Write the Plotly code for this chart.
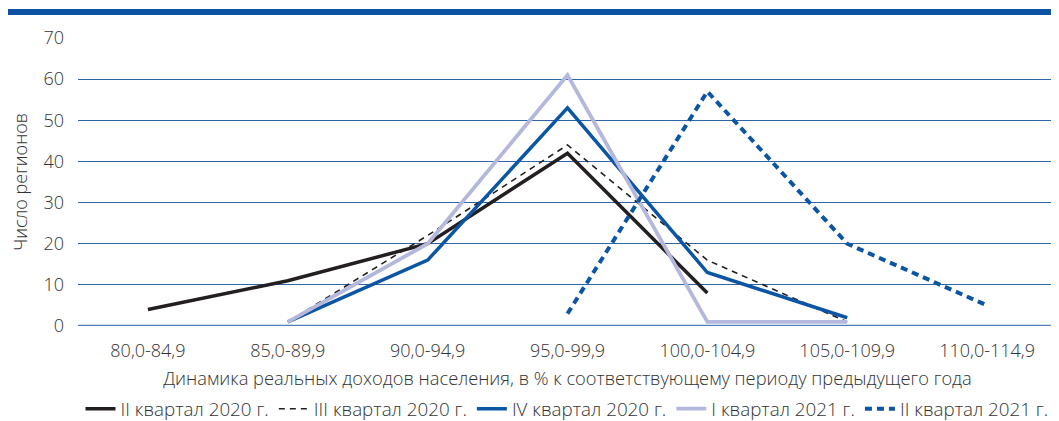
import plotly.graph_objects as go

categories = ["80,0-84,9", "85,0-89,9", "90,0-94,9", "95,0-99,9", "100,0-104,9", "105,0-109,9", "110,0-114,9"]

q2_2020 = [4, 11, 20, 42, 8, None, None]
q3_2020 = [None, 1, 22, 44, 16, 1, None]
q4_2020 = [None, 1, 16, 53, 13, 2, None]
q1_2021 = [None, 1, 20, 61, 1, 1, None]
q2_2021 = [None, None, None, 3, 57, 20, 5]

names = ["II квартал 2020 г.", "III квартал 2020 г.", "IV квартал 2020 г.", "I квартал 2021 г.", "II квартал 2021 г."]
series = [q2_2020, q3_2020, q4_2020, q1_2021, q2_2021]
styles = [
    dict(color="#231f20", width=3.5, dash="solid"),
    dict(color="#231f20", width=1.6, dash="6px,5px"),
    dict(color="#0b55a5", width=3.5, dash="solid"),
    dict(color="#b3b8dc", width=3.8, dash="solid"),
    dict(color="#0b55a5", width=4, dash="7px,5px"),
]

FONT = "Open Sans"
FS = 18
W, H = 1051, 413  # page body has an 8px margin
T, B, L, R = 30, 95, 70, 2
PH = H - T - B

fig = go.Figure()
for n, s, st in zip(names, series, styles):
    fig.add_trace(go.Scatter(x=categories, y=s, name=n, mode="lines", line=st, connectgaps=False))

fig.update_layout(
    width=W, height=H,
    margin=dict(l=L, r=R, t=T, b=B, autoexpand=False),
    paper_bgcolor="white", plot_bgcolor="white",
    font=dict(family=FONT, size=FS, color="#333333", weight=300),
    showlegend=True,
    legend=dict(orientation="h", x=559 / W, xanchor="center", xref="container",
                y=1 - 401 / H, yanchor="middle", yref="container",
                font=dict(family=FONT, size=18.8, color="#333333"), traceorder="normal",
                itemwidth=30, tracegroupgap=0),
    xaxis=dict(type="category", categoryorder="array", categoryarray=categories,
               showgrid=False, showline=False, zeroline=False, ticks="",
               ticklabelstandoff=12,
               tickfont=dict(size=FS, color="#333333"),
               title=dict(text="Динамика реальных доходов населения, в % к соответствующему периоду предыдущего года",
                          font=dict(size=18.3, color="#333333"), standoff=14),
               range=[-0.5, 6.5]),
    yaxis=dict(range=[0, 70], dtick=10, showgrid=True, gridcolor="#2e64a8", gridwidth=1,
               zeroline=False, showline=False, ticks="",
               ticklabelstandoff=13,
               tickfont=dict(size=FS, color="#333333"),
               title=dict(text="Число регионов", font=dict(size=FS, color="#333333"), standoff=16)),
)

# zero baseline
fig.add_shape(type="line", xref="paper", yref="y", x0=0, x1=1, y0=0, y1=0,
              line=dict(color="#4f7fbe", width=2.5), layer="below")
# top banner bar
fig.add_shape(type="rect", xref="paper", yref="paper", x0=-L / 979, x1=1.002,
              y0=(PH + T - 7) / PH, y1=(PH + T - 1) / PH,
              fillcolor="#0d52a3", line=dict(width=0))

fig.write_html("out.html")
